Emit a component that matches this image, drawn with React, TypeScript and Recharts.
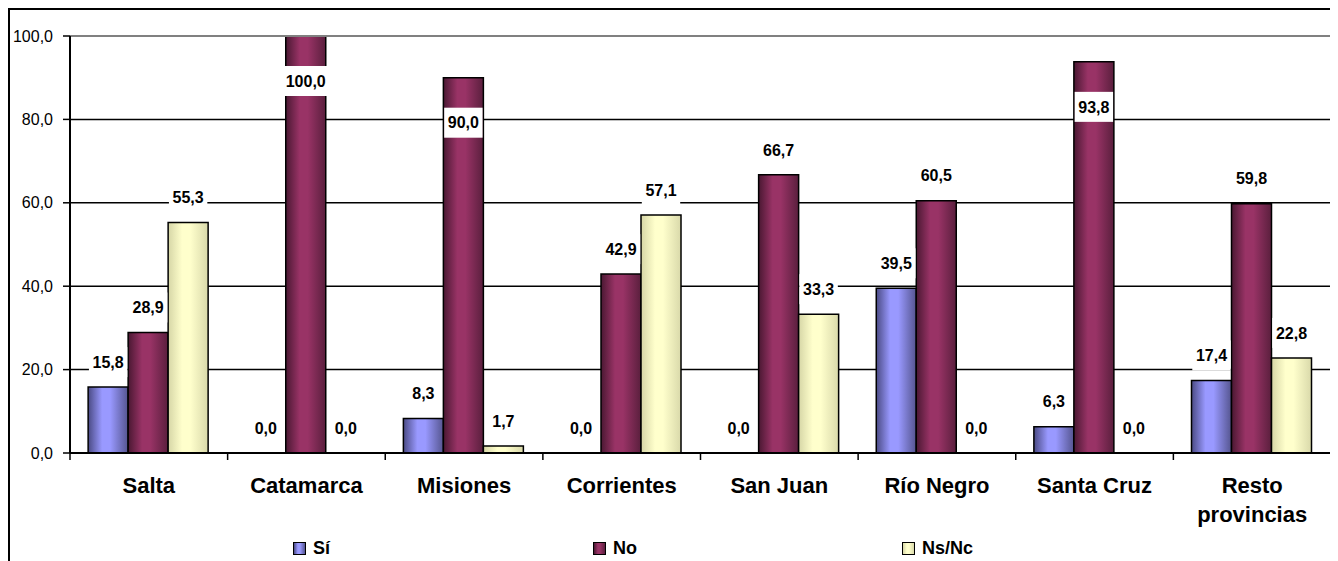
import React from 'react';
import {
  BarChart,
  Bar,
  XAxis,
  YAxis,
  CartesianGrid,
  ReferenceLine,
  LabelList
} from 'recharts';

const categories = ['Salta', 'Catamarca', 'Misiones', 'Corrientes', 'San Juan', 'Río Negro', 'Santa Cruz', 'Resto provincias'];
const siValues = [15.8, 0, 8.3, 0, 0, 39.5, 6.3, 17.4];
const noValues = [28.9, 100, 90, 42.9, 66.7, 60.5, 93.8, 59.8];
const nsncValues = [55.3, 0, 1.7, 57.1, 33.3, 0, 0, 22.8];
const yTicks = [0, 20, 40, 60, 80, 100];
const seriesNames = ['Sí', 'No', 'Ns/Nc'];

const FONT = "Arial, 'Liberation Sans', sans-serif";
const CHART_W = 1325;
const CHART_H = 551;
const MARGIN = { top: 26, right: 4, left: 0, bottom: 0 };
const Y_W = 60;
const PLOT_W = CHART_W - MARGIN.left - MARGIN.right - Y_W;

const data = categories.map((name, i) => ({
  name,
  si: siValues[i],
  no: noValues[i],
  nsnc: nsncValues[i]
}));

const fmt = (v: number) => v.toFixed(1).replace('.', ',');

// gradientes tipo Excel
const gradients = [
  { id: 'gSi', stops: ['#4a4a84', '#9999ff', '#9999ff', '#55558f'] },
  { id: 'gNo', stops: ['#4a1832', '#993366', '#993366', '#5a1f3d'] },
  { id: 'gNs', stops: ['#d6d6a6', '#ffffcc', '#ffffcc', '#d9d9aa'] }
];
const cssGrad = (s: string[]) => `linear-gradient(to right, ${s[0]} 0%, ${s[1]} 35%, ${s[2]} 55%, ${s[3]} 100%)`;

function BarLabel(props: any) {
  const { x, y, width, value } = props;
  if (value == null) return null;
  const cx = x + width / 2;
  const cy = value > 85 ? y + 45 : y - 25;
  const text = fmt(value);
  const w = text.length * 8.6 + 4;
  return (
    <g>
      <rect x={cx - w / 2} y={cy - 15} width={w} height={30} fill="#fff" />
      <text x={cx} y={cy} dy="0.36em" textAnchor="middle" fontFamily={FONT} fontSize={16} fontWeight="bold" fill="#000">
        {text}
      </text>
    </g>
  );
}

function CategoryTick(props: any) {
  const { x, y, payload, index } = props;
  const band = PLOT_W / categories.length;
  const words = String(payload.value).split(' ');
  const lines = words.length > 1 && payload.value.length > 12 ? words : [payload.value];
  return (
    <g>
      <line x1={x - band / 2} y1={y} x2={x - band / 2} y2={y + 7} stroke="#000" strokeWidth={1.5} />
      {index === categories.length - 1 && (
        <line x1={x + band / 2} y1={y} x2={x + band / 2} y2={y + 7} stroke="#000" strokeWidth={1.5} />
      )}
      <text x={x} y={y + 40} textAnchor="middle" fontFamily={FONT} fontSize={22} fontWeight="bold" fill="#000">
        {lines.map((l: string, i: number) => (
          <tspan key={i} x={x} dy={i === 0 ? 0 : 29}>{l}</tspan>
        ))}
      </text>
    </g>
  );
}

export default function App() {
  const legendLeft = [283, 583, 892];
  return (
    <div style={{ position: 'relative', width: CHART_W, height: CHART_H, border: '2px solid #000', background: '#fff' }}>
      <BarChart width={CHART_W} height={CHART_H} data={data} margin={MARGIN} barCategoryGap="11.5%" barGap={0}>
        <defs>
          {gradients.map(g => (
            <linearGradient key={g.id} id={g.id} x1="0" y1="0" x2="1" y2="0">
              <stop offset="0%" stopColor={g.stops[0]} />
              <stop offset="35%" stopColor={g.stops[1]} />
              <stop offset="55%" stopColor={g.stops[2]} />
              <stop offset="100%" stopColor={g.stops[3]} />
            </linearGradient>
          ))}
        </defs>
        <CartesianGrid vertical={false} stroke="#000" strokeWidth={1.5} />
        <ReferenceLine y={100} stroke="#808080" strokeWidth={2} />
        <XAxis
          dataKey="name"
          interval={0}
          height={CHART_H - MARGIN.top - 417}
          axisLine={{ stroke: '#000', strokeWidth: 2 }}
          tickLine={false}
          tickSize={0}
          tickMargin={0}
          tick={<CategoryTick />}
        />
        <YAxis
          width={Y_W}
          domain={[0, 100]}
          ticks={yTicks}
          tickFormatter={fmt}
          axisLine={{ stroke: '#000', strokeWidth: 2 }}
          tickLine={{ stroke: '#000', strokeWidth: 1.5 }}
          tickSize={7}
          tickMargin={10}
          tick={{ fill: '#000', fontSize: 16, fontFamily: FONT }}
        />
        <YAxis
          yAxisId="r"
          orientation="right"
          width={0}
          domain={[0, 100]}
          tick={false}
          tickLine={false}
          axisLine={{ stroke: '#808080', strokeWidth: 2 }}
        />
        <Bar dataKey="si" name={seriesNames[0]} fill="url(#gSi)" stroke="#000" strokeWidth={1.5} minPointSize={0.01} isAnimationActive={false}>
          <LabelList dataKey="si" content={<BarLabel />} />
        </Bar>
        <Bar dataKey="no" name={seriesNames[1]} fill="url(#gNo)" stroke="#000" strokeWidth={1.5} minPointSize={0.01} isAnimationActive={false}>
          <LabelList dataKey="no" content={<BarLabel />} />
        </Bar>
        <Bar dataKey="nsnc" name={seriesNames[2]} fill="url(#gNs)" stroke="#000" strokeWidth={1.5} minPointSize={0.01} isAnimationActive={false}>
          <LabelList dataKey="nsnc" content={<BarLabel />} />
        </Bar>
      </BarChart>
      {seriesNames.map((n, i) => (
        <div
          key={n}
          style={{ position: 'absolute', left: legendLeft[i], top: 528, display: 'flex', alignItems: 'center', fontFamily: FONT, fontWeight: 'bold', fontSize: 18 }}
        >
          <span style={{ display: 'inline-block', width: 11, height: 11, border: '1.5px solid #000', background: cssGrad(gradients[i].stops), marginRight: 7 }} />
          {n}
        </div>
      ))}
    </div>
  );
}
